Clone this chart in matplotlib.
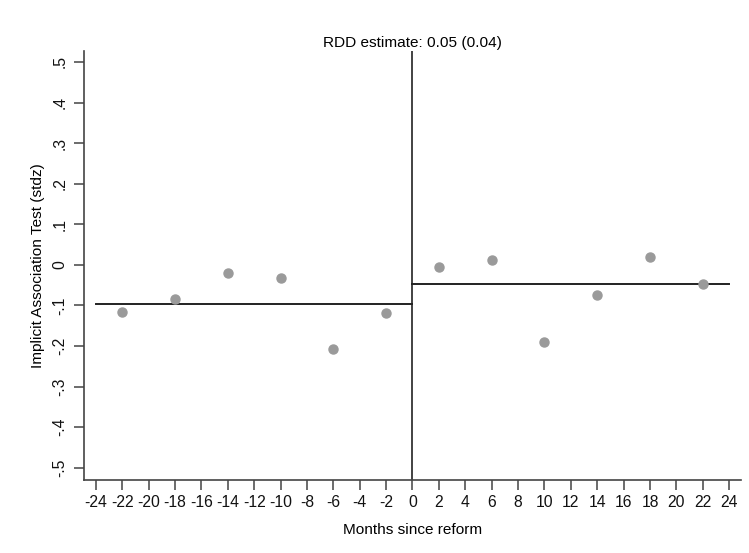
import matplotlib.pyplot as plt
import numpy as np

plt.rcParams['font.family'] = ['Liberation Sans', 'DejaVu Sans']

# months since reform (binned) and mean IAT score
months_pre = [-22, -18, -14, -10, -6, -2]
iat_pre = [-0.116, -0.084, -0.021, -0.032, -0.208, -0.119]
months_post = [2, 6, 10, 14, 18, 22]
iat_post = [-0.005, 0.012, -0.189, -0.074, 0.019, -0.048]

# fitted levels on each side of the cutoff
fit_pre = -0.097
fit_post = -0.048

xticks = list(range(-24, 25, 2))
yticks = [-0.5, -0.4, -0.3, -0.2, -0.1, 0, 0.1, 0.2, 0.3, 0.4, 0.5]
ylabels = ['-.5', '-.4', '-.3', '-.2', '-.1', '0', '.1', '.2', '.3', '.4', '.5']

fig = plt.figure(figsize=(7.49, 5.53), dpi=100)
ax = fig.add_axes([84 / 749, 1 - 480 / 553, (741 - 84) / 749, (480 - 51) / 553])

ax.plot(months_pre, iat_pre, 'o', color='#9a9a9a', markersize=6.5, zorder=3)
ax.plot(months_post, iat_post, 'o', color='#9a9a9a', markersize=6.5, zorder=3)
ax.plot([-24, 0], [fit_pre, fit_pre], color='#222222', lw=1.4, zorder=2)
ax.plot([0, 24], [fit_post, fit_post], color='#222222', lw=1.4, zorder=2)
ax.axvline(0, color='#222222', lw=1.2, zorder=2)

ax.set_xlim(-24.9, 24.9)
ax.set_ylim(-0.53, 0.527)
ax.set_xticks(xticks)
ax.set_xticklabels([str(t) for t in xticks])
ax.set_yticks(yticks)
ax.set_yticklabels(ylabels, rotation=90, va='center')

for s in ['top', 'right']:
    ax.spines[s].set_visible(False)
for s in ['left', 'bottom']:
    ax.spines[s].set_color('#444444')
    ax.spines[s].set_linewidth(1.2)
ax.tick_params(direction='out', length=7, width=1.1, color='#444444',
               labelsize=11.3, labelcolor='#111111')
ax.tick_params(axis='y', pad=5)

ax.set_xlabel('Months since reform', fontsize=11.1, labelpad=10)
ax.set_ylabel('Implicit Association Test (stdz)', fontsize=11.1, labelpad=5)
ax.set_title('RDD estimate: 0.05 (0.04)', fontsize=11.1, pad=3)

fig.savefig('out.png', dpi=100, facecolor='white')
